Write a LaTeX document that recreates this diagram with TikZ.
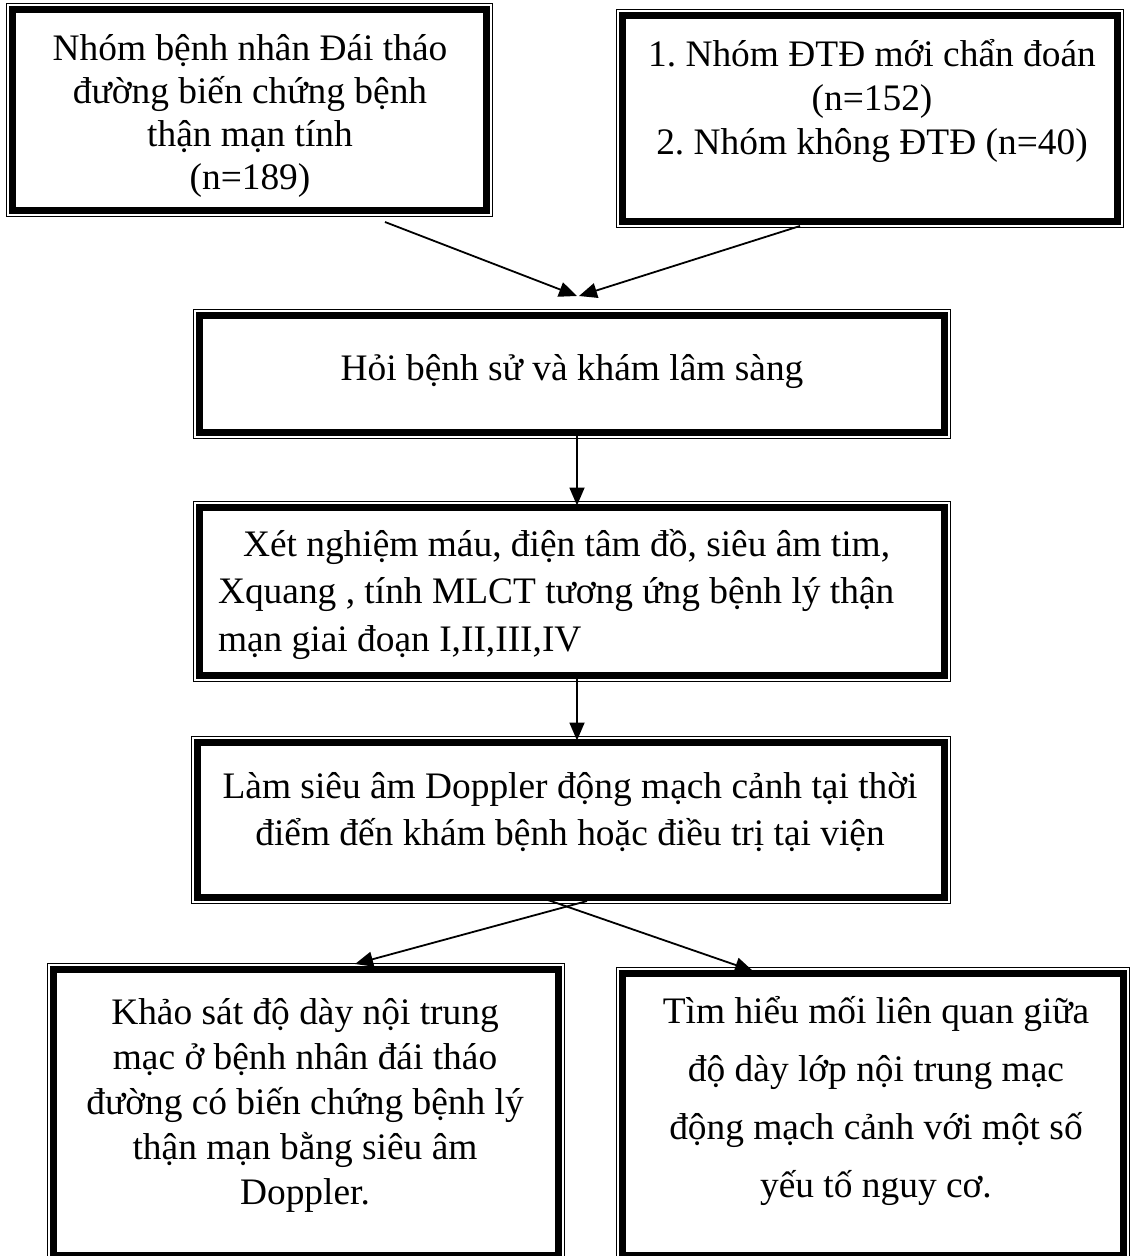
\documentclass[tikz,border=0pt]{standalone}
\usepackage{fontspec}
\setmainfont{Liberation Serif}
\usetikzlibrary{arrows.meta,calc}
\newcommand\mydbox[5]{%
  \node[boxnode, minimum width={#4pt-#2pt-13pt}, minimum height={#5pt-#3pt-13pt}] (#1) at ({(#2+#4)/2},{(#3+#5)/2}) {};
  \draw[thinframe] ($(#1.north west)+(-6pt,6pt)$) rectangle ($(#1.south east)+(6pt,-6pt)$);
}
\frenchspacing
\begin{document}
\begin{tikzpicture}[x=1pt,y=-1pt,
  boxnode/.style={draw=black, line width=7pt, inner sep=0pt, outer sep=0pt},
  thinframe/.style={draw=black, line width=1.2pt},
  txt/.style={inner sep=0pt, outer sep=0pt},
  arr/.style={line width=1.8pt, -{Triangle[length=18pt,width=15pt]}}
]
\useasboundingbox (0,0) rectangle (1131,1256);

\mydbox{b1}{6}{3}{493}{217}
\mydbox{b2}{616}{9}{1124}{228}
\mydbox{b3}{193}{309}{951}{439}
\mydbox{b4}{193}{501}{951}{682}
\mydbox{b5}{191}{736}{951}{904}
\mydbox{b6}{47}{963}{565}{1262}
\mydbox{b7}{616}{967}{1130}{1262}

\node[txt, align=center, font=\fontsize{37.4}{43}\selectfont] (t1) at (250,116)
  {Nhóm bệnh nhân Đái tháo\\đường biến chứng bệnh\\thận mạn tính\\(n=189)};
\node[txt, align=center, font=\fontsize{37.4}{44}\selectfont] (t2) at (872,101)
  {1. Nhóm ĐTĐ mới chẩn đoán\\(n=152)\\2. Nhóm không ĐTĐ (n=40)};
\node[txt, font=\fontsize{37.4}{44}\selectfont] (t3) at (572,372)
  {Hỏi bệnh sử và khám lâm sàng};
\node[txt, align=left, anchor=west, font=\fontsize{37.4}{47.5}\selectfont] (t4) at (218,594)
  {\hspace*{25pt}Xét nghiệm máu, điện tâm đồ, siêu âm tim,\\Xquang , tính MLCT tương ứng bệnh lý thận\\mạn giai đoạn I,II,III,IV};
\node[txt, align=center, font=\fontsize{37.4}{47}\selectfont] (t5) at (570,812)
  {Làm siêu âm Doppler động mạch cảnh tại thời\\điểm đến khám bệnh hoặc điều trị tại viện};
\node[txt, align=center, font=\fontsize{37.4}{45}\selectfont] (t6) at (305,1105)
  {Khảo sát độ dày nội trung\\mạc ở bệnh nhân đái tháo\\đường có biến chứng bệnh lý\\thận mạn bằng siêu âm\\Doppler.};
\node[txt, align=center, font=\fontsize{37.4}{57.7}\selectfont] (t7) at (876,1101)
  {Tìm hiểu mối liên quan giữa\\độ dày lớp nội trung mạc\\động mạch cảnh với một số\\yếu tố nguy cơ.};

\coordinate (s1) at (385,222);
\coordinate (s2) at (800,226);
\coordinate (m1) at (577,296);
\coordinate (m2) at (579,296);
\coordinate (c5) at (577,0);
\coordinate (s6) at (587,901);
\coordinate (s7) at (545,899);
\coordinate (e6) at (355,964);
\coordinate (e7) at (753,971);

\draw[arr] (s1) -- (m1);
\draw[arr] (s2) -- (m2);
\draw[arr] (b3.south -| c5) -- ([yshift=2pt]b4.north -| c5);
\draw[arr] (b4.south -| c5) -- ([yshift=2pt]b5.north -| c5);
\draw[arr] (s6) -- (e6);
\draw[arr] (s7) -- (e7);
\end{tikzpicture}
\end{document}
